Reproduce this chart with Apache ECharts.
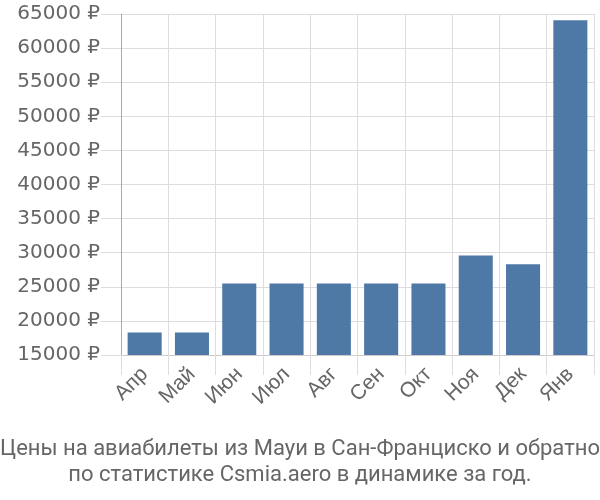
<!DOCTYPE html>
<html><head><meta charset="utf-8">
<script src="https://cdn.jsdelivr.net/npm/echarts@6/dist/echarts.min.js"></script>
<style>html,body{margin:0;padding:0;background:#fff}#c{width:600px;height:500px}</style>
</head><body><div id="c"></div>
<script>
const categories = ['Апр','Май','Июн','Июл','Авг','Сен','Окт','Ноя','Дек','Янв'];
const prices = [18300, 18300, 25500, 25500, 25500, 25500, 25500, 29600, 28300, 64100];
const titleLines = ['Цены на авиабилеты из Мауи в Сан-Франциско и обратно', 'по статистике Csmia.aero в динамике за год.'];

const chart = echarts.init(document.getElementById('c'));
chart.setOption({
  animation: false,
  title: {
    text: titleLines.join('\n'),
    left: 'center', top: 431,
    textStyle: {fontFamily: 'Roboto', fontSize: 22, fontWeight: 'normal', color: '#666', lineHeight: 26}
  },
  grid: {left: 121, right: 6, top: 14, bottom: 145},
  xAxis: {
    type: 'category', data: categories,
    axisLine: {lineStyle: {color: '#ccc'}},
    axisTick: {show: true, length: 20, lineStyle: {color: '#ddd'}},
    splitLine: {show: true, lineStyle: {color: '#ddd'}},
    axisLabel: {rotate: 45, fontFamily: 'Liberation Sans', fontSize: 21, color: '#666', margin: 16, interval: 0}
  },
  yAxis: {
    type: 'value', min: 15000, max: 65000, interval: 5000,
    axisLine: {show: true, lineStyle: {color: '#aaa'}},
    axisTick: {show: true, length: 20, lineStyle: {color: '#ddd'}},
    splitLine: {lineStyle: {color: '#ddd'}},
    axisLabel: {formatter: v => v + ' ₽', fontFamily: 'DejaVu Sans', fontSize: 20, color: '#666', margin: 21}
  },
  series: [{
    type: 'bar', data: prices, barWidth: '72%',
    itemStyle: {color: '#4e79a7'}
  }]
});
</script></body></html>
